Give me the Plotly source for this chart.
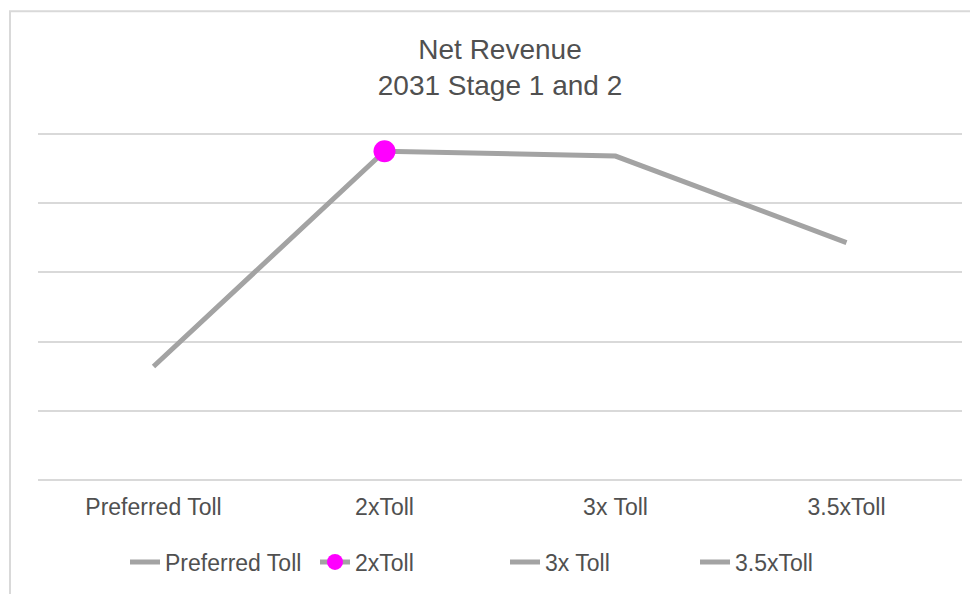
import plotly.graph_objects as go

categories = ["Preferred Toll", "2xToll", "3x Toll", "3.5xToll"]
net_revenue = [1.64, 4.75, 4.68, 3.43]
legend_names = ["Preferred Toll", "2xToll", "3x Toll", "3.5xToll"]
highlight_index = 1

GRAY = "#a3a3a3"
MAGENTA = "#ff00ff"
TEXT = "#505050"
FONT = "Liberation Sans, Arial, sans-serif"

# page body has an 8px default margin, so layout is offset by 8px
W, H = 970, 586
YMAX = 5.1
L, PW = 30, 924
UNIT = 69.4
PH = UNIT * YMAX
BOTTOM = 473  # plot bottom in layout px
T = BOTTOM - PH


def py(ref_px):
    # reference pixel row -> paper y
    return (BOTTOM + 8 - ref_px) / PH


def px(ref_px):
    return (ref_px - 8 - L) / PW


fig = go.Figure()

fig.add_trace(go.Scatter(
    x=categories, y=net_revenue, mode="lines", name=legend_names[0],
    line=dict(color=GRAY, width=5), showlegend=True, hoverinfo="x+y",
))
fig.add_trace(go.Scatter(
    x=[categories[highlight_index]], y=[net_revenue[highlight_index]],
    mode="lines+markers", name=legend_names[1],
    line=dict(color=GRAY, width=5),
    marker=dict(color=MAGENTA, size=22),
))
for i in (2, 3):
    fig.add_trace(go.Scatter(
        x=[categories[i]], y=[net_revenue[i]], mode="lines", name=legend_names[i],
        line=dict(color=GRAY, width=5),
    ))

fig.update_layout(
    width=W, height=H,
    margin=dict(l=L, r=W - L - PW, t=T, b=H - BOTTOM),
    paper_bgcolor="white", plot_bgcolor="white",
    font=dict(family=FONT, color=TEXT, size=23),
    title=dict(
        text="Net Revenue<br>2031 Stage 1 and 2",
        x=0.5, xref="paper", xanchor="center",
        y=(H - 51) / H, yanchor="middle",
        font=dict(family=FONT, size=28, color=TEXT),
    ),
    showlegend=True,
    legend=dict(
        orientation="h", x=px(505), xanchor="center", y=py(562), yanchor="middle",
        font=dict(family=FONT, size=23, color=TEXT), entrywidth=145,
        itemclick=False, bgcolor="rgba(0,0,0,0)",
    ),
    xaxis=dict(
        type="category", range=[-0.5, 3.5], showgrid=False, zeroline=False,
        showline=False, ticks="", ticklabelstandoff=11,
        tickfont=dict(family=FONT, size=23, color=TEXT), fixedrange=True,
    ),
    yaxis=dict(
        range=[0, YMAX], tickvals=[0, 1, 2, 3, 4, 5], showticklabels=False, showgrid=True,
        gridcolor="#d9d9d9", gridwidth=2, zeroline=True, zerolinecolor="#d9d9d9",
        zerolinewidth=2, showline=False, fixedrange=True,
    ),
    shapes=[dict(
        type="rect", xref="paper", yref="paper",
        x0=px(10), x1=px(995), y0=py(610), y1=py(11),
        line=dict(color="#d9d9d9", width=2), fillcolor="rgba(0,0,0,0)", layer="below",
    )],
)

fig.write_html("out.html")
